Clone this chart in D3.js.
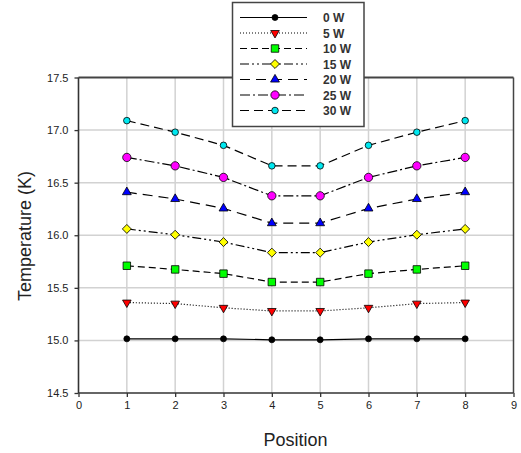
<!DOCTYPE html>
<html><head><meta charset="utf-8">
<script src="https://cdn.jsdelivr.net/npm/d3@7"></script>
<style>body{margin:0;background:#fff;}svg{display:block;font-family:"Liberation Sans",Arial,sans-serif;}</style>
</head><body><svg id="c" width="521" height="453"></svg>
<script>
const positions = [1, 2, 3, 4, 5, 6, 7, 8];
const seriesNames = ["0 W", "5 W", "10 W", "15 W", "20 W", "25 W", "30 W"];
const w0  = [15.015, 15.015, 15.015, 15.006, 15.006, 15.015, 15.015, 15.015];
const w5  = [15.36, 15.35, 15.31, 15.28, 15.28, 15.31, 15.35, 15.36];
const w10 = [15.71, 15.675, 15.635, 15.555, 15.555, 15.635, 15.675, 15.71];
const w15 = [16.06, 16.005, 15.935, 15.835, 15.835, 15.935, 16.005, 16.06];
const w20 = [16.41, 16.345, 16.255, 16.115, 16.115, 16.255, 16.345, 16.41];
const w25 = [16.74, 16.66, 16.55, 16.375, 16.375, 16.55, 16.66, 16.74];
const w30 = [17.09, 16.98, 16.855, 16.66, 16.66, 16.855, 16.98, 17.09];
const xTicks = [0, 1, 2, 3, 4, 5, 6, 7, 8, 9];
const yTicks = [14.5, 15.0, 15.5, 16.0, 16.5, 17.0, 17.5];
const xGrid = [1, 2, 3, 4, 5, 6, 7, 8];
const yGrid = [15.0, 15.5, 16.0, 16.5, 17.0];

const seriesValues = [w0, w5, w10, w15, w20, w25, w30];
const styles = [
  {color:"#000000", dash:null, sym:"circle", size:28},
  {color:"#ff0000", dash:"1,2", sym:"tdown", size:32},
  {color:"#00ff00", dash:"7,4", sym:"square", size:56},
  {color:"#ffff00", dash:"9,3,2,3,2,3", sym:"diamond", size:40},
  {color:"#0000ff", dash:"10,6", sym:"tup", size:34},
  {color:"#ff00ff", dash:"10,3,2,3", sym:"circle", size:54},
  {color:"#00e8f0", dash:"9,5", sym:"circle", size:34}
];

const svg = d3.select("#c");
const L = 78.5, R = 513.5, T = 77.5, B = 393;
const x = d3.scaleLinear().domain([0, 9]).range([L, R]);
const y = d3.scaleLinear().domain([14.5, 17.5]).range([B, T]);

// grid
svg.append("g").selectAll("line").data(xGrid).join("line")
  .attr("x1", d => x(d)).attr("x2", d => x(d)).attr("y1", T).attr("y2", B)
  .attr("stroke", "#d2d2d2").attr("stroke-width", 1.5);
svg.append("g").selectAll("line").data(yGrid).join("line")
  .attr("x1", L).attr("x2", R).attr("y1", d => y(d)).attr("y2", d => y(d))
  .attr("stroke", "#d2d2d2").attr("stroke-width", 1.5);

// frame
svg.append("line").attr("x1", L).attr("x2", R).attr("y1", T).attr("y2", T).attr("stroke", "#444").attr("stroke-width", 1.8);
svg.append("line").attr("x1", R).attr("x2", R).attr("y1", T).attr("y2", B).attr("stroke", "#444").attr("stroke-width", 1.5);

// axes
const xAxis = svg.append("g").attr("transform", `translate(0,${B})`)
  .call(d3.axisBottom(x).tickValues(xTicks).tickFormat(d3.format("d")).tickSize(4).tickPadding(4));
const yAxis = svg.append("g").attr("transform", `translate(${L},0)`)
  .call(d3.axisLeft(y).tickValues(yTicks).tickFormat(d3.format(".1f")).tickSize(4).tickPadding(6));
[xAxis, yAxis].forEach(g => {
  g.select(".domain").attr("stroke", "#333").attr("stroke-width", 1.6);
  g.selectAll(".tick line").attr("stroke", "#333").attr("stroke-width", 1.3);
  g.selectAll("text").attr("fill", "#222").style("font-size", "11px").style("font-family", "'Liberation Sans',Arial,sans-serif");
});
xAxis.select(".domain").attr("d", `M${L},0H${R}`);
yAxis.select(".domain").attr("d", `M0,${B}V${T}`);

function symbolPath(sym, size) {
  const types = {circle: d3.symbolCircle, square: d3.symbolSquare, diamond: d3.symbolSquare, tup: d3.symbolTriangle, tdown: d3.symbolTriangle};
  return d3.symbol().type(types[sym]).size(size)();
}
function symbolRot(sym) {
  return sym === "tdown" ? " rotate(180)" : (sym === "diamond" ? " rotate(45)" : "");
}

const line = d3.line().x((d, i) => x(positions[i])).y(d => y(d));

seriesValues.forEach((vals, si) => {
  const st = styles[si];
  svg.append("path").datum(vals).attr("d", line)
    .attr("fill", "none").attr("stroke", "#000").attr("stroke-width", 1.2)
    .attr("stroke-dasharray", st.dash);
  svg.append("g").selectAll("path").data(vals).join("path")
    .attr("d", symbolPath(st.sym, st.size))
    .attr("transform", (d, i) => `translate(${x(positions[i])},${y(d)})` + symbolRot(st.sym))
    .attr("fill", st.color).attr("stroke", "#000").attr("stroke-width", 0.8);
});

// legend
const lg = svg.append("g");
lg.append("rect").attr("x", 232.5).attr("y", 2.5).attr("width", 131.5).attr("height", 124)
  .attr("fill", "#fff").attr("stroke", "#444").attr("stroke-width", 1.5);
seriesNames.forEach((name, si) => {
  const st = styles[si];
  const ly = 17.5 + si * 15.5;
  lg.append("line").attr("x1", 240).attr("x2", 307).attr("y1", ly).attr("y2", ly)
    .attr("stroke", "#000").attr("stroke-width", 1.2).attr("stroke-dasharray", st.dash);
  lg.append("path").attr("d", symbolPath(st.sym, st.size))
    .attr("transform", `translate(275,${ly})` + symbolRot(st.sym))
    .attr("fill", st.color).attr("stroke", "#000").attr("stroke-width", 0.8);
  lg.append("text").attr("x", 323).attr("y", ly + 4.5).text(name)
    .attr("fill", "#333").style("font-size", "12px").style("font-weight", "bold");
});

// axis titles
svg.append("text").attr("x", 295.5).attr("y", 446).attr("text-anchor", "middle")
  .style("font-size", "18px").attr("fill", "#222").text("Position");
svg.append("text").attr("transform", "translate(31,236) rotate(-90)").attr("text-anchor", "middle")
  .style("font-size", "18px").attr("fill", "#222").text("Temperature (K)");
</script></body></html>
